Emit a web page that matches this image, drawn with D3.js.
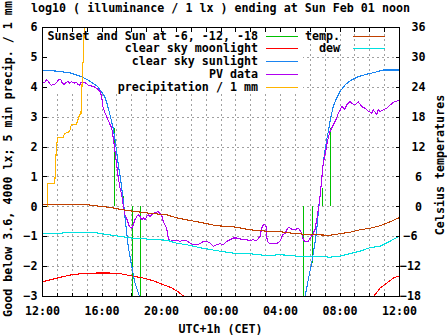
<!DOCTYPE html>
<html><head><meta charset="utf-8">
<script src="https://cdn.jsdelivr.net/npm/d3@7"></script>
<style>
html,body{margin:0;padding:0;background:#fff;}
svg{display:block;}
text{font-family:"DejaVu Sans Mono","Liberation Mono",monospace;font-weight:bold;font-size:11.67px;fill:#000;}
</style></head><body>
<svg id="chart" width="447" height="335"></svg>
<script>
// Time is counted in hours after Saturday 12:00 (CET), 0..24.
const xTickHours = [0, 4, 8, 12, 16, 20, 24];
const xTickLabels = ["12:00", "16:00", "20:00", "00:00", "04:00", "08:00", "12:00"];
const leftTicks = [-3, -2, -1, 0, 1, 2, 3, 4, 5, 6];
const rightTicks = [-18, -12, -6, 0, 6, 12, 18, 24, 30, 36];

// Sunset / sunrise and sun at -6, -12, -18 degrees (impulses from 0)
const twilightT = [4.86, 5.42, 6.03, 6.61, 17.57, 18.17, 18.80, 19.36];
const twilightV = [2.62, 0.33, -3.2, -3.2, -3.2, -1.9, 0.6, 2.62];

// clear sky moonlight, log10 lx (null = below range)
const moonT = [0, 0.85, 1.97, 2.87, 3.90, 4.44, 5.24, 5.92, 6.81, 7.48, 8.15, 8.72, 9.16, 9.50, 9.7,
               22.1, 22.32, 22.72, 23.17, 23.62, 24];
const moonV = [-2.53, -2.42, -2.29, -2.24, -2.23, -2.23, -2.25, -2.32, -2.4, -2.49, -2.62, -2.73, -2.86, -3.0, null,
               null, -3.0, -2.74, -2.57, -2.4, -2.33];

// clear sky sunlight, log10 lx
const sunT = [0, 1.08, 1.95, 2.62, 3.09, 3.76, 4.22, 4.40, 4.57, 4.79, 4.91, 5.02, 5.13, 5.24, 5.36, 5.47,
              5.58, 5.80, 6.03, 6.25, 6.52, 6.72, 6.9,
              17.5, 17.62, 17.90, 18.13, 18.35, 18.47, 18.57, 18.69, 18.80, 18.91, 19.03, 19.14, 19.25, 19.36,
              19.48, 19.58, 19.81, 20.03, 20.37, 20.71, 21.26, 21.83, 22.50, 22.94, 24];
const sunV = [4.56, 4.52, 4.46, 4.34, 4.23, 4.0, 3.67, 3.39, 3.06, 2.61, 2.22, 1.83, 1.38, 1.05, 0.62, 0.16,
              -0.39, -1.35, -2.0, -2.57, -2.97, -3.4, null,
              null, -3.2, -2.45, -1.9, -1.23, -0.78, -0.23, 0.33, 0.89, 1.45, 1.9, 2.23, 2.5, 2.84,
              3.12, 3.34, 3.62, 3.84, 4.06, 4.2, 4.34, 4.42, 4.5, 4.56, 4.56];

// measured PV data, log10 lx
const pvT = [0.05, 0.18, 0.29, 0.40, 0.52, 0.63, 0.74, 0.85, 0.99, 1.12, 1.26, 1.34, 1.48, 1.63, 1.75, 1.86,
             1.97, 2.08, 2.20, 2.31, 2.42, 2.53, 2.60, 2.82, 2.96, 3.09, 3.29, 3.50, 3.68, 3.76, 3.90, 4.01,
             4.10, 4.24, 4.44, 4.69, 4.79, 4.91, 5.02, 5.13, 5.24, 5.36, 5.47, 5.58, 5.69, 5.80, 5.87, 6.03,
             6.14, 6.25, 6.37, 6.47, 6.59, 6.70, 6.81, 6.92, 7.04, 7.15, 7.26, 7.48, 7.71, 7.81, 7.93, 8.04,
             8.15, 8.27, 8.38, 8.49, 8.61, 8.83, 9.06, 9.28, 9.50, 9.73, 9.95, 10.17, 10.40, 10.62, 10.84, 11.07,
             11.29, 11.52, 11.74, 11.97, 12.19, 12.42, 12.64, 12.86, 13.09, 13.31, 13.53, 13.76, 13.98, 14.20, 14.43, 14.66,
             14.77, 14.92, 15.06, 15.14, 15.33, 15.78, 16.0, 16.18, 16.34, 16.56, 16.79, 17.01, 17.23, 17.34, 17.46, 17.57,
             17.68, 17.90, 18.13, 18.24, 18.35, 18.47, 18.57, 18.69, 18.80, 18.91, 19.09, 19.18, 19.36, 19.58, 19.81, 19.92,
             20.03, 20.15, 20.37, 20.48, 20.71, 20.82, 21.04, 21.26, 21.49, 21.71, 21.93, 22.16, 22.27, 22.50, 22.61, 22.72,
             22.94, 23.17, 23.40, 23.62, 23.84, 24];
const pvV = [4.12, 4.15, 4.23, 4.2, 4.1, 4.04, 4.08, 4.08, 4.15, 4.23, 4.25, 4.15, 4.08, 4.15, 4.17, 4.12,
             4.17, 4.15, 4.12, 4.15, 4.08, 4.04, 4.15, 4.15, 4.12, 4.06, 4.03, 4.0, 3.95, 3.92, 3.84, 3.67,
             3.33, 3.12, 2.89, 2.61, 2.29, 1.83, 1.38, 0.95, 0.62, 0.38, 0.0, -0.29, -0.4, -0.56, -0.67, -0.73,
             -0.62, -0.45, -0.34, -0.28, -0.34, -0.45, -0.39, -0.45, -0.34, -0.28, -0.34, -0.23, -0.2, -0.17, -0.23, -0.28,
             -0.51, -0.62, -0.73, -1.06, -1.17, -1.14, -1.14, -1.17, -1.14, -1.15, -1.23, -1.28, -1.28, -1.25, -1.17, -1.17,
             -1.23, -1.34, -1.28, -1.25, -1.28, -1.17, -1.12, -1.06, -1.06, -1.09, -1.12, -1.12, -1.14, -1.12, -1.15, -1.0,
             -0.73, -0.59, -0.67, -1.17, -1.25, -1.25, -1.17, -0.96, -0.9, -0.7, -0.76, -0.78, -0.73, -0.8, -0.9, -1.12,
             -1.17, -1.17, -1.0, -0.9, -0.78, -0.45, -0.12, 0.33, 0.89, 1.45, 1.9, 2.17, 2.5, 2.72, 2.95, 3.12,
             3.2, 3.34, 3.25, 3.39, 3.5, 3.45, 3.39, 3.5, 3.34, 3.28, 3.19, 3.12, 3.23, 3.08, 3.23, 3.17,
             3.23, 3.28, 3.39, 3.48, 3.52, 3.55];

// 5 min precipitation / 1 mm (cumulative trace)
const rainT = [0, 0.39, 0.40, 0.86, 0.95, 1.0, 1.07, 1.41, 1.53, 1.86, 1.97, 2.31, 2.42, 2.53, 2.62, 2.66, 2.72, 2.78, 2.82, 2.87];
const rainV = [0, 0, 0.77, 0.77, 1.8, 2.1, 2.3, 2.3, 2.44, 2.5, 2.72, 2.75, 2.9, 3.06, 3.1, 3.6, 4.5, 5.0, 5.6, 6.5];

// temperature and dew point, degrees Celsius
const tempT = [0, 1.97, 3.09, 3.90, 4.57, 5.24, 6.14, 7.26, 8.38, 9.05, 9.72, 10.62, 11.74, 12.86, 13.98, 15.11,
               16.0, 16.23, 17.12, 18.24, 19.36, 20.03, 20.71, 21.38, 22.05, 22.72, 23.40, 24];
const tempV = [0.3, 0.3, 0.3, 0.0, -0.2, -0.6, -1.0, -1.4, -1.7, -2.3, -2.7, -3.2, -3.9, -4.1, -4.7, -5.0,
               -5.0, -5.2, -5.5, -5.7, -5.8, -5.5, -5.2, -4.7, -4.4, -3.9, -3.1, -2.3];
const dewT = [0, 0.85, 1.97, 3.09, 3.90, 4.22, 4.96, 6.14, 7.26, 8.38, 9.05, 9.72, 10.62, 11.74, 12.86, 13.98,
              15.11, 16.0, 17.12, 18.24, 19.36, 20.03, 20.71, 21.38, 22.05, 22.72, 23.40, 24];
const dewV = [-5.5, -5.5, -5.2, -5.2, -5.4, -5.6, -5.9, -6.4, -6.6, -6.8, -7.4, -7.7, -8.3, -8.9, -9.4, -9.5,
              -9.9, -9.7, -10.0, -10.0, -10.2, -10.0, -9.5, -9.0, -8.3, -8.0, -7.0, -6.0];

const colors = {
  twilight: "#00c000", moon: "#ff0000", sun: "#1a84f0", pv: "#b000f0",
  rain: "#ffb400", temp: "#c04000", dew: "#00e0e0"
};

const W = 447, H = 335;
const M = {left: 42, right: 399, top: 27, bottom: 296};
const svg = d3.select("#chart");

const x = d3.scaleLinear().domain([0, 24]).range([M.left, M.right]);
const y = d3.scaleLinear().domain([-3, 6]).range([M.bottom, M.top]);
const y2 = d3.scaleLinear().domain([-18, 36]).range([M.bottom, M.top]);

const pts = (T, V) => T.map((t, i) => ({t, v: V[i]}));

svg.append("rect").attr("width", W).attr("height", H).attr("fill", "#fff");

svg.append("defs").append("clipPath").attr("id", "plot")
  .append("rect").attr("x", M.left).attr("y", M.top)
  .attr("width", M.right - M.left).attr("height", M.bottom - M.top);

// grid
const hours = d3.range(1, 24);
const grid = svg.append("g").attr("stroke", "#a0a0a0").attr("stroke-width", 1)
  .attr("stroke-dasharray", "2,3").attr("shape-rendering", "crispEdges");
grid.selectAll("line.v").data(hours).join("line")
  .attr("x1", d => Math.round(x(d)) + 0.5).attr("x2", d => Math.round(x(d)) + 0.5)
  .attr("y1", M.bottom).attr("y2", M.top);
grid.selectAll("line.h").data(leftTicks.filter(d => d > -3 && d < 6)).join("line")
  .attr("x1", M.left).attr("x2", M.right)
  .attr("y1", d => Math.round(y(d)) + 0.5).attr("y2", d => Math.round(y(d)) + 0.5);

// key box for the first legend column
svg.append("rect").attr("x", M.left + 1).attr("y", M.top + 1)
  .attr("width", 260).attr("height", 66).attr("fill", "#fff");

const plot = svg.append("g").attr("clip-path", "url(#plot)");

// impulses for sunset and twilight stages
plot.append("g").selectAll("line").data(pts(twilightT, twilightV)).join("line")
  .attr("x1", d => Math.round(x(d.t)) + 0.5).attr("x2", d => Math.round(x(d.t)) + 0.5)
  .attr("y1", y(0)).attr("y2", d => y(d.v))
  .attr("stroke", colors.twilight).attr("stroke-width", 1).attr("shape-rendering", "crispEdges");

const lineL = d3.line().defined(d => d.v !== null).x(d => x(d.t)).y(d => y(d.v));
const lineR = d3.line().defined(d => d.v !== null).x(d => x(d.t)).y(d => y2(d.v));

const series = [
  {data: pts(moonT, moonV), line: lineL, color: colors.moon},
  {data: pts(sunT, sunV), line: lineL, color: colors.sun},
  {data: pts(pvT, pvV), line: lineL, color: colors.pv},
  {data: pts(rainT, rainV), line: lineL, color: colors.rain},
  {data: pts(tempT, tempV), line: lineR, color: colors.temp},
  {data: pts(dewT, dewV), line: lineR, color: colors.dew}
];
series.forEach(s => {
  plot.append("path").datum(s.data).attr("d", s.line)
    .attr("fill", "none").attr("stroke", s.color).attr("stroke-width", 1.1)
    .attr("stroke-linejoin", "round").attr("shape-rendering", "crispEdges");
});

// frame
svg.append("rect").attr("x", M.left + 0.5).attr("y", M.top + 0.5)
  .attr("width", M.right - M.left).attr("height", M.bottom - M.top)
  .attr("fill", "none").attr("stroke", "#000").attr("shape-rendering", "crispEdges");

// axes
const styleAxis = g => {
  g.select(".domain").remove();
  g.selectAll(".tick line").attr("stroke", "#000").attr("shape-rendering", "crispEdges");
  g.selectAll("text").attr("font-family", null).attr("font-size", null);
};
svg.append("g").attr("transform", `translate(${M.left + 0.5},0)`)
  .call(d3.axisLeft(y).tickValues(leftTicks).tickFormat(d3.format("d")).tickSize(-4).tickPadding(5))
  .call(styleAxis);
const ax2 = svg.append("g").attr("transform", `translate(${M.right + 0.5},0)`)
  .call(d3.axisRight(y2).tickValues(rightTicks).tickFormat(d3.format("d")).tickSize(-4).tickPadding(19))
  .call(styleAxis);
ax2.selectAll("text").attr("text-anchor", "middle").attr("dx", d => d < 0 ? -8 : 0);

svg.append("g").attr("transform", `translate(0,${M.bottom + 0.5})`)
  .call(d3.axisBottom(x).tickValues(d3.range(0, 25)).tickFormat(d => {
    const i = xTickHours.indexOf(d); return i >= 0 ? xTickLabels[i] : "";
  }).tickSize(-4).tickPadding(10))
  .call(styleAxis);
svg.append("g").attr("transform", `translate(0,${M.top + 0.5})`)
  .call(d3.axisTop(x).tickValues(d3.range(0, 25)).tickFormat("").tickSize(-4))
  .call(styleAxis);

// titles
svg.append("text").attr("x", (M.left + M.right) / 2).attr("y", 12)
  .attr("text-anchor", "middle").text("log10 ( illuminance / 1 lx ) ending at Sun Feb 01 noon");
svg.append("text").attr("x", (M.left + M.right) / 2).attr("y", 333)
  .attr("text-anchor", "middle").text("UTC+1h (CET)");
svg.append("text").attr("transform", "translate(12,159) rotate(-90)")
  .attr("text-anchor", "middle").text("Good below 3.6, 4000 lx; 5 min precip. / 1 mm");
svg.append("text").attr("transform", "translate(444,165) rotate(-90)")
  .attr("text-anchor", "middle").text("Celsius temperatures");

// legend
const keyLeft = [
  {label: "Sunset and Sun at -6, -12, -18", color: colors.twilight},
  {label: "clear sky moonlight", color: colors.moon},
  {label: "clear sky sunlight", color: colors.sun},
  {label: "PV data", color: colors.pv},
  {label: "precipitation / 1 mm", color: colors.rain}
];
const keyRight = [
  {label: "temp.", color: colors.temp},
  {label: "dew", color: colors.dew}
];
const drawKey = (items, textX, lx1, lx2) => {
  const g = svg.append("g");
  items.forEach((it, i) => {
    const cy = 35.5 + i * 12.85;
    g.append("text").attr("x", textX).attr("y", cy + 4).attr("text-anchor", "end").text(it.label);
    g.append("line").attr("x1", lx1).attr("x2", lx2)
      .attr("y1", Math.round(cy) + 0.5).attr("y2", Math.round(cy) + 0.5)
      .attr("stroke", it.color).attr("shape-rendering", "crispEdges");
  });
};
drawKey(keyLeft, 258, 266, 298);
drawKey(keyRight, 340, 353, 385);
</script>
</body></html>
